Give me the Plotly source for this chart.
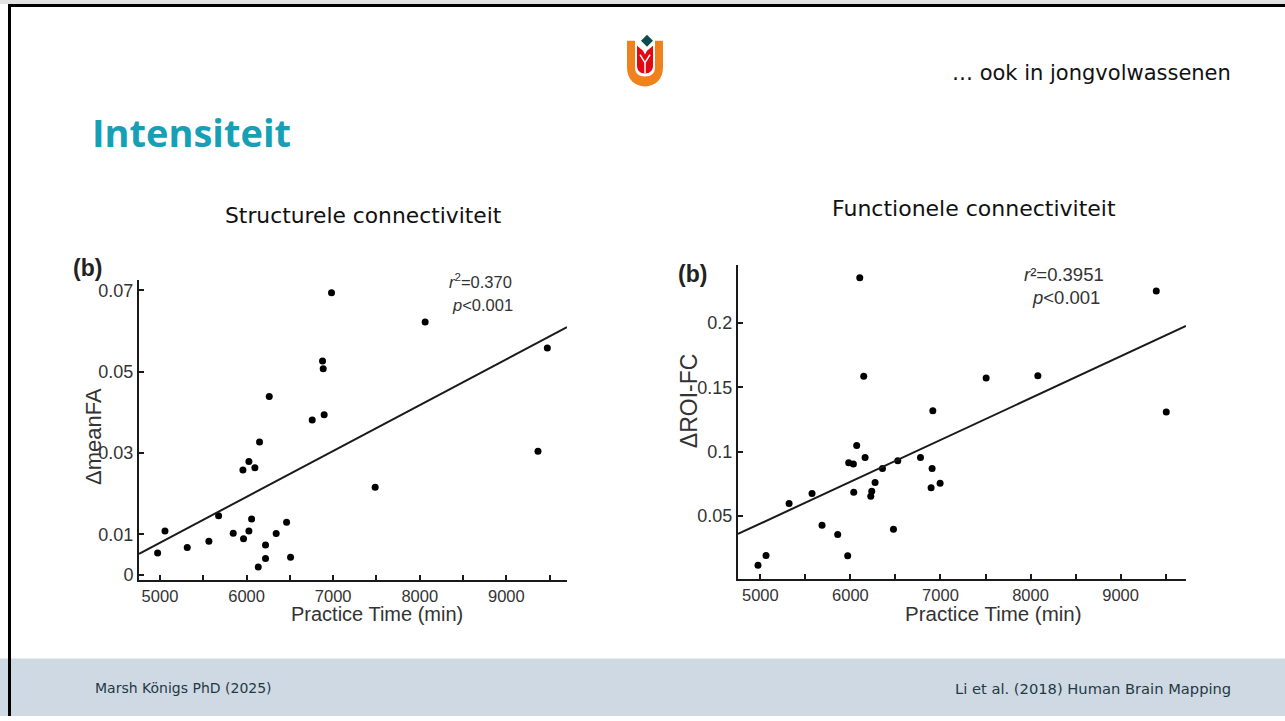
import plotly.graph_objects as go

W, H = 1285, 721

# ---------------- data ----------------
# Left panel: structural connectivity (ΔmeanFA vs practice time)
fa_time = [4973, 5058, 5315, 5565, 5677, 5846, 5958, 5965, 6027, 6027, 6058, 6096, 6135,
           6150, 6219, 6219, 6262, 6342, 6462, 6508, 6758, 6877, 6885, 6896, 6981, 7485,
           8062, 9365, 9473]
fa_delta = [0.0054, 0.0108, 0.0068, 0.0083, 0.0146, 0.0103, 0.0258, 0.0089, 0.0279, 0.0108,
            0.0138, 0.0264, 0.0020, 0.0327, 0.0074, 0.0041, 0.0439, 0.0102, 0.0130, 0.0044,
            0.0381, 0.0526, 0.0507, 0.0394, 0.0694, 0.0216, 0.0622, 0.0304, 0.0558]
fa_fit_slope, fa_fit_intercept = 1.127e-5, -0.0484
fa_xrange = [4758, 9700]
fa_yrange = [-0.0012, 0.0725]
fa_yticks = [0, 0.01, 0.03, 0.05, 0.07]
fa_yticktext = ["0", "0.01", "0.03", "0.05", "0.07"]

# Right panel: functional connectivity (ΔROI-FC vs practice time)
fc_time = [4974, 5063, 5319, 5574, 5685, 5859, 5970, 5981, 6033, 6037, 6070, 6104, 6148,
           6163, 6226, 6237, 6274, 6356, 6478, 6526, 6778, 6896, 6907, 6915, 6996, 7507,
           8081, 9396, 9507]
fc_delta = [0.0117, 0.0194, 0.0598, 0.0675, 0.0428, 0.0356, 0.0191, 0.0914, 0.0904, 0.0685,
            0.1048, 0.2352, 0.1586, 0.0955, 0.0654, 0.0693, 0.0760, 0.0870, 0.0397, 0.0930,
            0.0955, 0.0719, 0.0870, 0.1318, 0.0755, 0.1573, 0.1591, 0.2250, 0.1308]
fc_fit_slope, fc_fit_intercept = 3.249e-5, -0.1183
fc_xrange = [4752, 9726]
fc_yrange = [0.0011, 0.245]
fc_yticks = [0.05, 0.1, 0.15, 0.2]
fc_yticktext = ["0.05", "0.1", "0.15", "0.2"]

x_ticks = [5000, 6000, 7000, 8000, 9000]
x_ticktext = ["5000", "6000", "7000", "8000", "9000"]


# ---------------- helpers ----------------
def px(x):
    return x / W


def py(y):
    return 1 - y / H


def path(cmds):
    out = []
    for c in cmds:
        if isinstance(c, str):
            out.append(c)
        else:
            out.append(f"{px(c[0]):.5f},{py(c[1]):.5f}")
    return " ".join(out)


fig = go.Figure()

CH = "Liberation Sans, Arial, sans-serif"
XT_FONT = dict(family=CH, size=16.5, color="#333333")
YT_FONT = dict(family=CH, size=18, color="#333333")
INK = "#1a1a1a"

# scatter + fit, left
fig.add_trace(go.Scatter(x=fa_time, y=fa_delta, mode="markers", xaxis="x", yaxis="y",
                         marker=dict(size=7, color="black"), showlegend=False,
                         hoverinfo="skip"))
fa_line_x = fa_xrange
fa_line_y = [fa_fit_slope * v + fa_fit_intercept for v in fa_line_x]
fig.add_trace(go.Scatter(x=fa_line_x, y=fa_line_y, mode="lines", xaxis="x", yaxis="y",
                         line=dict(color=INK, width=2), showlegend=False, hoverinfo="skip"))

# scatter + fit, right
fig.add_trace(go.Scatter(x=fc_time, y=fc_delta, mode="markers", xaxis="x2", yaxis="y2",
                         marker=dict(size=7, color="black"), showlegend=False,
                         hoverinfo="skip"))
fc_line_x = fc_xrange
fc_line_y = [fc_fit_slope * v + fc_fit_intercept for v in fc_line_x]
fig.add_trace(go.Scatter(x=fc_line_x, y=fc_line_y, mode="lines", xaxis="x2", yaxis="y2",
                         line=dict(color=INK, width=2), showlegend=False, hoverinfo="skip"))

common_x = dict(showline=True, linecolor=INK, linewidth=2, ticks="inside", ticklen=5,
                tickwidth=1.5, tickcolor=INK, showgrid=False, zeroline=False,
                tickvals=x_ticks, ticktext=x_ticktext, tickfont=XT_FONT,
                minor=dict(ticks="inside", dtick=500, tick0=4500, ticklen=5,
                           tickwidth=1.5, tickcolor=INK, showgrid=False))
common_y = dict(showline=True, linecolor=INK, linewidth=2, ticks="inside", ticklen=5,
                tickwidth=1.5, tickcolor=INK, showgrid=False, zeroline=False,
                tickfont=YT_FONT)

fig.update_layout(
    width=W, height=H,
    margin=dict(l=0, r=0, t=0, b=0),
    paper_bgcolor="white", plot_bgcolor="rgba(0,0,0,0)",
    xaxis=dict(domain=[px(139), px(567)], range=fa_xrange, anchor="y", **common_x),
    yaxis=dict(domain=[py(584), py(282)], range=fa_yrange, anchor="x",
               tickvals=fa_yticks, ticktext=fa_yticktext, **common_y),
    xaxis2=dict(domain=[px(738), px(1186)], range=fc_xrange, anchor="y2", **common_x),
    yaxis2=dict(domain=[py(583), py(267)], range=fc_yrange, anchor="x2",
                tickvals=fc_yticks, ticktext=fc_yticktext, **common_y),
)

shapes = []
# footer band
shapes.append(dict(type="rect", xref="paper", yref="paper", x0=0, x1=1, y0=py(721), y1=py(663),
                   fillcolor="#cfd9e3", line=dict(width=0), layer="below"))
# top gray strip
shapes.append(dict(type="rect", xref="paper", yref="paper", x0=0, x1=1, y0=py(4), y1=1,
                   fillcolor="#e2e2e2", line=dict(width=0), layer="below"))
# slide border (top + left)
shapes.append(dict(type="rect", xref="paper", yref="paper", x0=px(8), x1=1, y0=py(7), y1=py(4),
                   fillcolor="black", line=dict(width=0)))
shapes.append(dict(type="rect", xref="paper", yref="paper", x0=px(8), x1=px(11), y0=0, y1=py(4),
                   fillcolor="black", line=dict(width=0)))

# logo: orange U
shapes.append(dict(type="path", xref="paper", yref="paper",
                   path=path(["M", (627, 41), "L", (627, 68), "C", (627, 80), (635, 87), (645, 87),
                              "C", (655, 87), (663, 80), (663, 68), "L", (663, 41), "L", (655, 41),
                              "L", (655, 68), "C", (655, 74), (651, 77), (645, 77),
                              "C", (639, 77), (635, 74), (635, 68), "L", (635, 41), "Z"]),
                   fillcolor="#f0821e", line=dict(width=0)))
# logo: red tulip
shapes.append(dict(type="path", xref="paper", yref="paper",
                   path=path(["M", (637, 46), "L", (643, 51), "L", (645, 55), "L", (647, 51),
                              "L", (653, 46), "L", (653, 66), "C", (653, 71), (650, 74), (645, 74),
                              "C", (640, 74), (637, 71), (637, 66), "Z"]),
                   fillcolor="#e30613", line=dict(width=0)))
shapes.append(dict(type="path", xref="paper", yref="paper",
                   path=path(["M", (640, 55), "L", (645, 63), "L", (650, 55), "M", (645, 63),
                              "L", (645, 74)]),
                   line=dict(color="white", width=1.5)))
# logo: teal diamond
shapes.append(dict(type="path", xref="paper", yref="paper",
                   path=path(["M", (647, 35), "L", (653, 41), "L", (647, 47), "L", (641, 41), "Z"]),
                   fillcolor="#0e4d4f", line=dict(width=0)))

fig.update_layout(shapes=shapes)

SLIDE_FONT = "DejaVu Sans, Verdana, sans-serif"
ann = []


def text(x, y, s, size, color="#111111", family=SLIDE_FONT, xanchor="center", textangle=0):
    ann.append(dict(x=px(x), y=py(y), xref="paper", yref="paper", text=s, showarrow=False,
                    xanchor=xanchor, yanchor="middle", textangle=textangle,
                    font=dict(size=size, color=color, family=family)))


# slide texts
text(90, 133, "<b>Intensiteit</b>", 38, color="#16a0b6", family="Open Sans, sans-serif",
     xanchor="left")
text(1233, 74, "… ook in jongvolwassenen", 21, xanchor="right")
text(363, 217, "Structurele connectiviteit", 21.8)
text(974, 210, "Functionele connectiviteit", 22)
text(93, 693, "Marsh Königs PhD (2025)", 14, color="#1f3a44", xanchor="left")
text(1233, 693, "Li et al. (2018) Human Brain Mapping", 14.7, color="#1f3a44", xanchor="right")

# chart texts
text(87, 270, "<b>(b)</b>", 23, color="#222222", family=CH)
text(692, 276, "<b>(b)</b>", 23, color="#222222", family=CH)
text(377, 618, "Practice Time (min)", 20, color="#333333", family=CH)
text(993, 618, "Practice Time (min)", 20.5, color="#333333", family=CH)
text(94, 440, "ΔmeanFA", 22, color="#333333", family=CH, textangle=-90)
text(689, 404, "ΔROI-FC", 23, color="#333333", family=CH, textangle=-90)
text(447, 283, "<i>r</i><sup>2</sup>=0.370", 16.5, color="#333333", family=CH, xanchor="left")
text(450, 307, "<i>p</i><0.001", 16.5, color="#333333", family=CH, xanchor="left")
text(1022, 276, "<i>r</i>²=0.3951", 18.5, color="#333333", family=CH, xanchor="left")
text(1030, 300, "<i>p</i><0.001", 18.5, color="#333333", family=CH, xanchor="left")

fig.update_layout(annotations=ann)

fig.write_html("out.html", config=dict(displayModeBar=False),
               post_script="document.body.style.margin='0';document.body.style.overflow='hidden';")
